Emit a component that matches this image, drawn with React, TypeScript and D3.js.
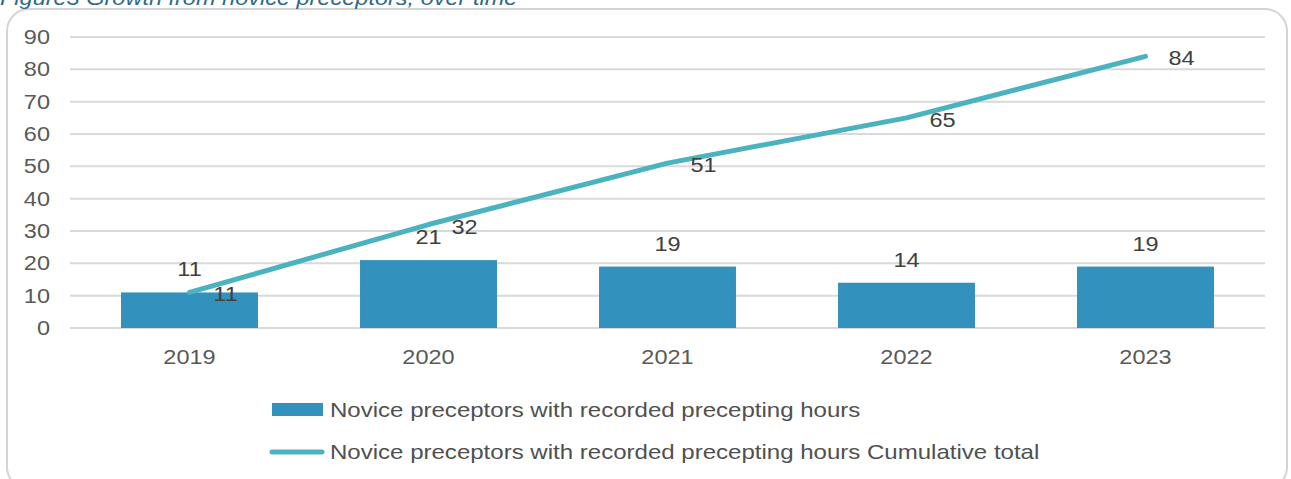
import React from "react";
import * as d3 from "d3";

// Chart data
const years = ["2019", "2020", "2021", "2022", "2023"];
const novicePreceptors = [11, 21, 19, 14, 19];
const cumulativeTotal = [11, 32, 51, 65, 84];
const yTicks = [0, 10, 20, 30, 40, 50, 60, 70, 80, 90];
const titleText = "Figure3 Growth from novice preceptors, over time";
const barSeriesName = "Novice preceptors with recorded precepting hours";
const lineSeriesName = "Novice preceptors with recorded precepting hours Cumulative total";

const W = 1291;
const H = 479;
const BAR_COLOR = "#3391bd";
const LINE_COLOR = "#4bb2c0";
const TEXT_COLOR = "#404040";
const FONT = "'Liberation Sans', Arial, sans-serif";
const SX = 1.12; // horizontal stretch applied to text glyphs

function T({
  x,
  y,
  children,
  anchor = "middle",
  size = 21,
  fill = TEXT_COLOR,
  italic = false,
  sx = SX,
}: {
  x: number;
  y: number;
  children: React.ReactNode;
  anchor?: "start" | "middle" | "end";
  size?: number;
  fill?: string;
  italic?: boolean;
  sx?: number;
}) {
  return (
    <g transform={`translate(${x},${y}) scale(${sx},1)`}>
      <text
        x={0}
        y={0}
        textAnchor={anchor}
        dominantBaseline="central"
        fontFamily={FONT}
        fontSize={size}
        fontStyle={italic ? "italic" : "normal"}
        fill={fill}
      >
        {children}
      </text>
    </g>
  );
}

export default function App() {
  const x = d3
    .scaleBand<string>()
    .domain(years)
    .range([70, 1265])
    .paddingInner(0.427)
    .paddingOuter(0.2135);
  const y = d3.scaleLinear().domain([0, 90]).range([328, 37]);
  const cx = (d: string) => (x(d) ?? 0) + x.bandwidth() / 2;

  const line = d3
    .line<number>()
    .x((_, i) => cx(years[i]))
    .y((v) => y(v));

  return (
    <svg
      width={W}
      height={H}
      style={{ position: "absolute", left: 0, top: 0, background: "#fff" }}
    >
      <rect x={0} y={0} width={W} height={H} fill="#fff" />
      {/* frame */}
      <rect
        x={7}
        y={9}
        width={1280}
        height={480}
        rx={22}
        ry={22}
        fill="#fff"
        stroke="#d4d4d4"
        strokeWidth={2}
      />
      {/* title, running off the top edge */}
      <T x={0} y={-2} anchor="start" fill="#2f6a85" italic>
        {titleText}
      </T>

      {/* gridlines */}
      {yTicks.map((t) => (
        <line
          key={t}
          x1={70}
          x2={1265}
          y1={y(t)}
          y2={y(t)}
          stroke="#d9d9d9"
          strokeWidth={2}
        />
      ))}
      {/* y tick labels */}
      {yTicks.map((t) => (
        <T key={t} x={50} y={y(t)} anchor="end" fill="#595959">
          {t}
        </T>
      ))}

      {/* bars */}
      {years.map((yr, i) => (
        <rect
          key={yr}
          x={x(yr)}
          y={y(novicePreceptors[i])}
          width={x.bandwidth()}
          height={y(0) - y(novicePreceptors[i])}
          fill={BAR_COLOR}
        />
      ))}

      {/* cumulative line */}
      <path
        d={line(cumulativeTotal) ?? ""}
        fill="none"
        stroke={LINE_COLOR}
        strokeWidth={5}
        strokeLinecap="round"
        strokeLinejoin="round"
      />

      {/* bar value labels */}
      {years.map((yr, i) => (
        <T key={yr} x={cx(yr)} y={y(novicePreceptors[i]) - 23}>
          {novicePreceptors[i]}
        </T>
      ))}
      {/* line value labels */}
      {years.map((yr, i) => (
        <T key={yr} x={cx(yr) + 36} y={y(cumulativeTotal[i]) + 2}>
          {cumulativeTotal[i]}
        </T>
      ))}

      {/* x labels */}
      {years.map((yr) => (
        <T key={yr} x={cx(yr)} y={357} fill="#595959">
          {yr}
        </T>
      ))}

      {/* legend */}
      <rect x={272} y={403} width={51} height={13} fill={BAR_COLOR} />
      <T x={330} y={410} anchor="start" fill="#505050" sx={1.145}>
        {barSeriesName}
      </T>
      <line
        x1={272}
        x2={322}
        y1={452}
        y2={452}
        stroke={LINE_COLOR}
        strokeWidth={5}
        strokeLinecap="round"
      />
      <T x={330} y={452} anchor="start" fill="#505050" sx={1.145}>
        {lineSeriesName}
      </T>
    </svg>
  );
}
